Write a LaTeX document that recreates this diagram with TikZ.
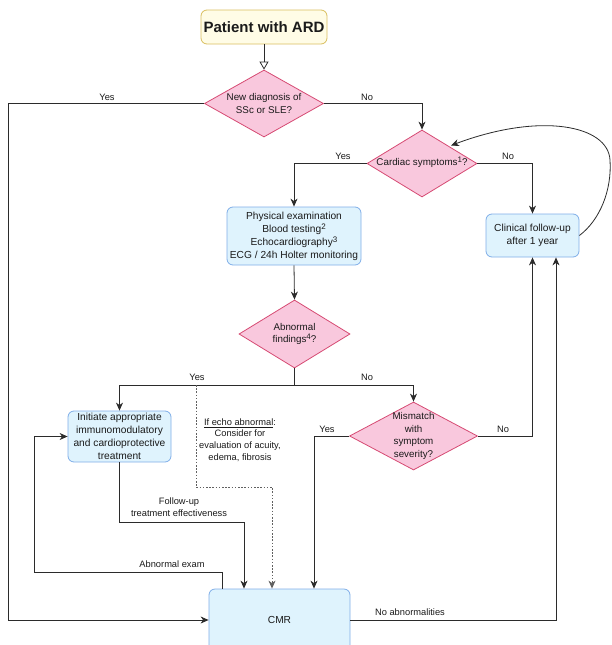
\documentclass[tikz,border=0pt]{standalone}
\usepackage{fontspec}
\setmainfont{Liberation Sans}
\usetikzlibrary{shapes.geometric,arrows.meta}
\definecolor{pinkfill}{HTML}{F9C8DD}
\definecolor{pinkline}{HTML}{D64A73}
\definecolor{bluefill}{HTML}{DFF3FD}
\definecolor{blueline}{HTML}{7FAEE8}
\definecolor{yelfill}{HTML}{FFFCE6}
\definecolor{yelline}{HTML}{D9BE5E}
\definecolor{linec}{HTML}{2B2B2B}
\definecolor{textc}{HTML}{1A1A1A}
\newcommand{\supx}[1]{\raisebox{0.55ex}{\fontsize{8}{8}\selectfont #1}}
\begin{document}
\begin{tikzpicture}[x=1pt,y=-1pt,
  every node/.style={text=textc},
  box/.style={draw=blueline, fill=bluefill, rounded corners=6pt, line width=0.8pt, align=center, font=\fontsize{10.2}{13}\selectfont, inner sep=0pt},
  dia/.style={diamond, draw=pinkline, fill=pinkfill, line width=0.8pt, inner sep=0pt},
  diatext/.style={align=center, font=\fontsize{9.8}{12.4}\selectfont, inner sep=0pt},
  lbl/.style={font=\fontsize{9.3}{11.7}\selectfont, align=center, inner sep=0pt},
  conn/.style={draw=linec, line width=0.8pt},
  arr/.style={conn, -{Stealth[length=8pt,width=7pt,inset=2.5pt]}},
  dotline/.style={draw=linec!75, line width=0.9pt, dash pattern=on 1.6pt off 1.6pt, -{Stealth[length=8pt,width=7pt,inset=2.5pt]}},
]
\useasboundingbox (0,0) rectangle (611,645);
\clip (0,0) rectangle (611,645);

% nodes
\node[draw=yelline, fill=yelfill, rounded corners=6pt, line width=0.8pt, minimum width=126pt, minimum height=34pt, inner sep=0pt, font=\bfseries\fontsize{15}{18}\selectfont] (start) at (264,27) {Patient with ARD};
\node[dia, minimum width=119pt, minimum height=67pt] (d1) at (264,103.5) {};
\node[diatext] at (d1) {New diagnosis of\\SSc or SLE?};
\node[dia, minimum width=110pt, minimum height=67pt] (d2) at (422,163.5) {};
\node[diatext] at ([yshift=1pt]d2.center) {Cardiac symptoms\supx{1}?};
\node[box, minimum width=93pt, minimum height=43pt] (clin) at (532.5,235.5) {Clinical follow-up\\after 1 year};
\node[box, minimum width=134pt, minimum height=58pt] (phys) at (294,236) {Physical examination\\Blood testing\supx{2}\\Echocardiography\supx{3}\\ECG / 24h Holter monitoring};
\node[dia, minimum width=111pt, minimum height=68pt] (d3) at (294.5,334) {};
\node[diatext] at (d3) {Abnormal\\findings\supx{4}?};
\node[box, minimum width=103pt, minimum height=51pt] (init) at (119.5,436.5) {Initiate appropriate\\immunomodulatory\\and cardioprotective\\treatment};
\node[dia, minimum width=128pt, minimum height=68pt] (d4) at (413.5,436) {};
\node[diatext] at (d4) {Mismatch\\with\\symptom\\severity?};
\node[box, minimum width=141pt, minimum height=62pt] (cmr) at (279.5,620) {CMR};

% connectors
\draw[conn, -{Triangle[open,length=8pt,width=9pt]}] (start.south) -- (d1.north);

\draw[arr] (d1.west) -- (8.5,103.5) |- (cmr.west);
\node[lbl] at (107,97) {Yes};
\draw[arr] (d1.east) -| (d2.north);
\node[lbl] at (367,97) {No};

\draw[arr] (d2.west) -| (phys.north);
\node[lbl] at (343,156) {Yes};
\draw[arr] (d2.east) -| (clin.north);
\node[lbl] at (508,156) {No};

\coordinate (d2in) at (451,145.5);
\draw[arr] (clin.east) .. controls (600,220) and (612,190) .. (610,160) .. controls (608,125) and (540,112) .. (d2in);

\draw[arr] (phys.south) -- (d3.north);
\coordinate (split) at (294.5,385);
\draw[conn] (d3.south) -- (split);
\draw[arr] (split) -| (init.north);
\draw[arr] (split) -| (d4.north);
\node[lbl] at (197,377) {Yes};
\node[lbl] at (367,377) {No};

\coordinate (dotstart) at (196,385);
\draw[dotline] (dotstart) -- (196,487) -| ([xshift=-7.5pt]cmr.north);
\node[lbl] at (240,440) {\underline{If echo abnormal}:\\Consider for\\evaluation of acuity,\\edema, fibrosis};

\draw[arr] (init.south) -- (119.5,522) -| ([xshift=-35.5pt]cmr.north);
\node[lbl] at (179,507) {Follow-up\\treatment effectiveness};

\draw[arr] ([xshift=-57.5pt]cmr.north) |- (34,572) |- (init.west);
\node[lbl] at (172,564) {Abnormal exam};

\draw[arr] (d4.west) -| ([xshift=34.5pt]cmr.north);
\node[lbl] at (327,429) {Yes};
\draw[arr] (d4.east) -| (clin.south);
\node[lbl] at (503,429) {No};

\draw[arr] (cmr.east) -| ([xshift=23.5pt]clin.south);
\node[lbl] at (410,612) {No abnormalities};
\end{tikzpicture}
\end{document}
